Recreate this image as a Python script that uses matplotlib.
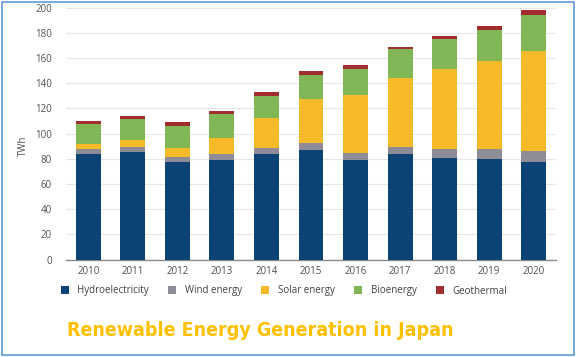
import numpy as np
import matplotlib
matplotlib.use('Agg')
from matplotlib import pyplot as plt
from matplotlib import patches

# data (TWh)
years = ['2010', '2011', '2012', '2013', '2014', '2015', '2016', '2017', '2018', '2019', '2020']
hydro = [84.0, 85.1, 77.1, 79.0, 83.7, 86.9, 78.7, 83.7, 80.6, 79.8, 77.6]
wind = [3.5, 4.2, 4.0, 4.5, 4.5, 5.3, 5.8, 5.8, 7.1, 7.9, 8.7]
solar = [3.9, 5.5, 7.6, 12.7, 24.1, 35.4, 45.8, 54.5, 63.5, 69.6, 79.2]
bio = [15.9, 16.5, 17.0, 19.0, 17.2, 18.6, 20.6, 22.8, 23.8, 25.1, 28.5]
geo = [2.9, 2.8, 3.4, 2.9, 3.2, 3.4, 3.2, 2.1, 2.6, 3.2, 4.0]

series = [('Hydroelectricity', hydro, '#0b4374'),
          ('Wind energy', wind, '#8e8c96'),
          ('Solar energy', solar, '#f6b927'),
          ('Bioenergy', bio, '#80b656'),
          ('Geothermal', geo, '#a12d2e')]

plt.rcParams['font.family'] = ['Open Sans', 'DejaVu Sans']

fig = plt.figure(figsize=(5.76, 3.57), dpi=100)
W, H = 576.0, 357.0
ax = fig.add_axes([66/W, 1 - 259.5/H, (556-66)/W, (259.5-7.5)/H])

x = np.arange(len(years))
bottom = np.zeros(len(years))
handles = []
for name, vals, col in series:
    b = ax.bar(x, vals, width=0.56, bottom=bottom, color=col, label=name, zorder=3)
    handles.append(b)
    bottom += np.array(vals)

ax.set_xlim(-0.5, 10.5)
ax.set_ylim(0, 200)
ax.set_yticks(np.arange(0, 201, 20))
ax.set_xticks(x)
ax.set_xticklabels(years)
ax.grid(axis='y', color='#e6e6e6', lw=0.8, zorder=0)
for s in ['top', 'right', 'left']:
    ax.spines[s].set_visible(False)
ax.spines['bottom'].set_color('#8a8a8a')
ax.spines['bottom'].set_linewidth(1.0)
ax.tick_params(axis='both', length=0, labelsize=7, colors='#505050')
ax.tick_params(axis='y', pad=10)
ax.tick_params(axis='x', pad=5)
ax.set_ylabel('TWh', fontsize=7, color='#505050')
ax.yaxis.set_label_coords(-0.075, 0.45)

fig.legend(handles=handles, loc='center', bbox_to_anchor=(284/W, 1 - 291/H), ncol=5,
           frameon=False, fontsize=7, handlelength=0.8, handleheight=0.8,
           columnspacing=2.0, handletextpad=0.9, labelcolor='#404040')

# title in a narrow bold face if one is around, else DejaVu
fig.text(67/W, 1 - 331/H, 'Renewable Energy Generation in Japan', color='#ffc000',
         fontsize=14, fontweight='bold', fontstretch='condensed',
         family=['DejaVu Sans'], va='center', ha='left')

# blue frame around the picture
fig.add_artist(patches.Rectangle((2/W, 2/H), 1 - 4/W, 1 - 4/H, transform=fig.transFigure,
                                 fill=False, edgecolor='#5b9bd5', lw=1.2))

fig.savefig('out.png', dpi=100)
